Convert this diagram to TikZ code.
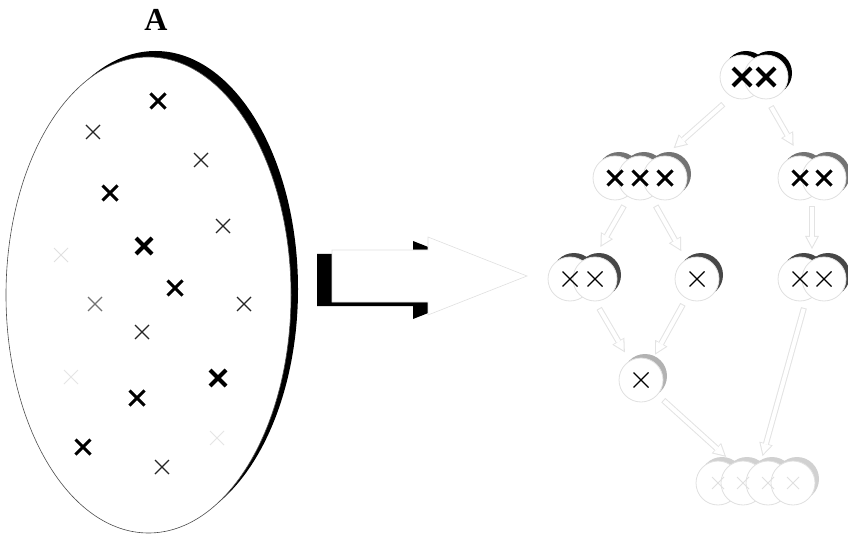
\documentclass[tikz,border=0pt]{standalone}
\usepackage{fontspec}
\setmainfont{Liberation Serif}
\usetikzlibrary{arrows.meta}

\tikzset{
  blob/.style={fill=white, draw=black!12, line width=0.8pt},
  linkrim/.style={line width=6pt, black!11, -{Triangle[length=13pt,width=14pt,line width=0pt]}},
  linkcore/.style={line width=4pt, white, -{Triangle[length=10pt,width=10.8pt,line width=0pt]}}
}

%% hollow block arrow between two cluster centres: rim first, then the white core
\newcommand{\linkarrow}[4]{%
  \draw[linkrim, shorten <=#3pt, shorten >=#4pt] (#1) -- (#2);
  \draw[linkcore, shorten <=#3pt+1pt, shorten >=#4pt+2.2pt] (#1) -- (#2);
}

\begin{document}
\begin{tikzpicture}[x=1pt, y=-1pt]
\useasboundingbox (0,0) rectangle (848,537);

\colorlet{cRim}{black!12}

%% ---------- the set A ----------
\fill[black] (155.5,289) ellipse [x radius=142.5pt, y radius=238pt];
\filldraw[fill=white, draw=black!70, line width=0.6pt]
  (148.5,295) ellipse [x radius=142.5pt, y radius=238pt];
\node[font=\bfseries\fontsize{32}{32}\selectfont] (lblA) at (156,20) {A};

%% points: x / y / half size / width / colour
\foreach \x/\y/\s/\w/\c in {
  158/101/7.5/3/black, 93/132/7/1.2/black!85, 201/160/7/1.2/black!85,
  110/193/7.5/3/black, 223/226/7/1.2/black!85, 144/246/8/4/black,
  61/255/7/1/black!12, 175/288/7.5/3/black, 95/304/7/1.2/black!55,
  244/304/7/1.2/black!85, 142/332/7/1.2/black!85, 71/377/7/1/black!10,
  218/378/8/4/black, 137/398/7.5/3/black, 217/438/7/1/black!10,
  83/447/7.5/3/black, 162/467/7/1.2/black!85} {
  \draw[\c, line width=\w pt] (\x-\s,\y-\s) -- (\x+\s,\y+\s) (\x-\s,\y+\s) -- (\x+\s,\y-\s);
}

%% ---------- the big arrow ----------
\fill[black, shift={(-15,4)}]
  (332,250) -- (428,250) -- (428,237) -- (527,276) -- (428,315) -- (428,302) -- (332,302) -- cycle;
\filldraw[fill=white, draw=cRim, line width=0.6pt]
  (332,250) -- (428,250) -- (428,237) -- (527,276) -- (428,315) -- (428,302) -- (332,302) -- cycle;

%% ---------- the hierarchy ----------
\coordinate (root) at (754,77);
\coordinate (left) at (640,178);
\coordinate (right) at (812,178);
\coordinate (pairL) at (582,279);
\coordinate (single) at (697,279);
\coordinate (pairR) at (812,279);
\coordinate (lone) at (641,380);
\coordinate (all) at (755,483);

\linkarrow{root}{left}{41}{45}
\linkarrow{root}{right}{34}{37}
\linkarrow{left}{pairL}{32}{37}
\linkarrow{left}{single}{32}{32}
\linkarrow{right}{pairR}{28}{30}
\linkarrow{pairL}{lone}{34}{32}
\linkarrow{single}{lone}{29}{29}
\linkarrow{lone}{all}{30}{39}
\linkarrow{pairR}{all}{30}{28}

%% clusters: centres / y / shadow / cross size / cross width / cross colour
\foreach \xs/\y/\sh/\s/\w/\c in {
  {742,766}/77/black/9/4/black,
  {615,640,665}/178/black!55/7.5/3/black,
  {800,824}/178/black!55/7.5/3/black,
  {570,595}/279/black!72/7.5/1.2/black,
  {697}/279/black!72/7.5/1.2/black,
  {800,824}/279/black!72/7.5/1.2/black,
  {641}/380/black!30/7.5/1.2/black,
  {718,743,768,793}/483/black!18/6/1/black!12} {
  \foreach \cx in \xs \fill[\sh] (\cx+4,\y-4) circle [radius=22pt];
  \foreach \cx in \xs \filldraw[blob] (\cx,\y) circle [radius=22pt];
  \foreach \cx in \xs \draw[\c, line width=\w pt]
    (\cx-\s,\y-\s) -- (\cx+\s,\y+\s) (\cx-\s,\y+\s) -- (\cx+\s,\y-\s);
}

\end{tikzpicture}
\end{document}
